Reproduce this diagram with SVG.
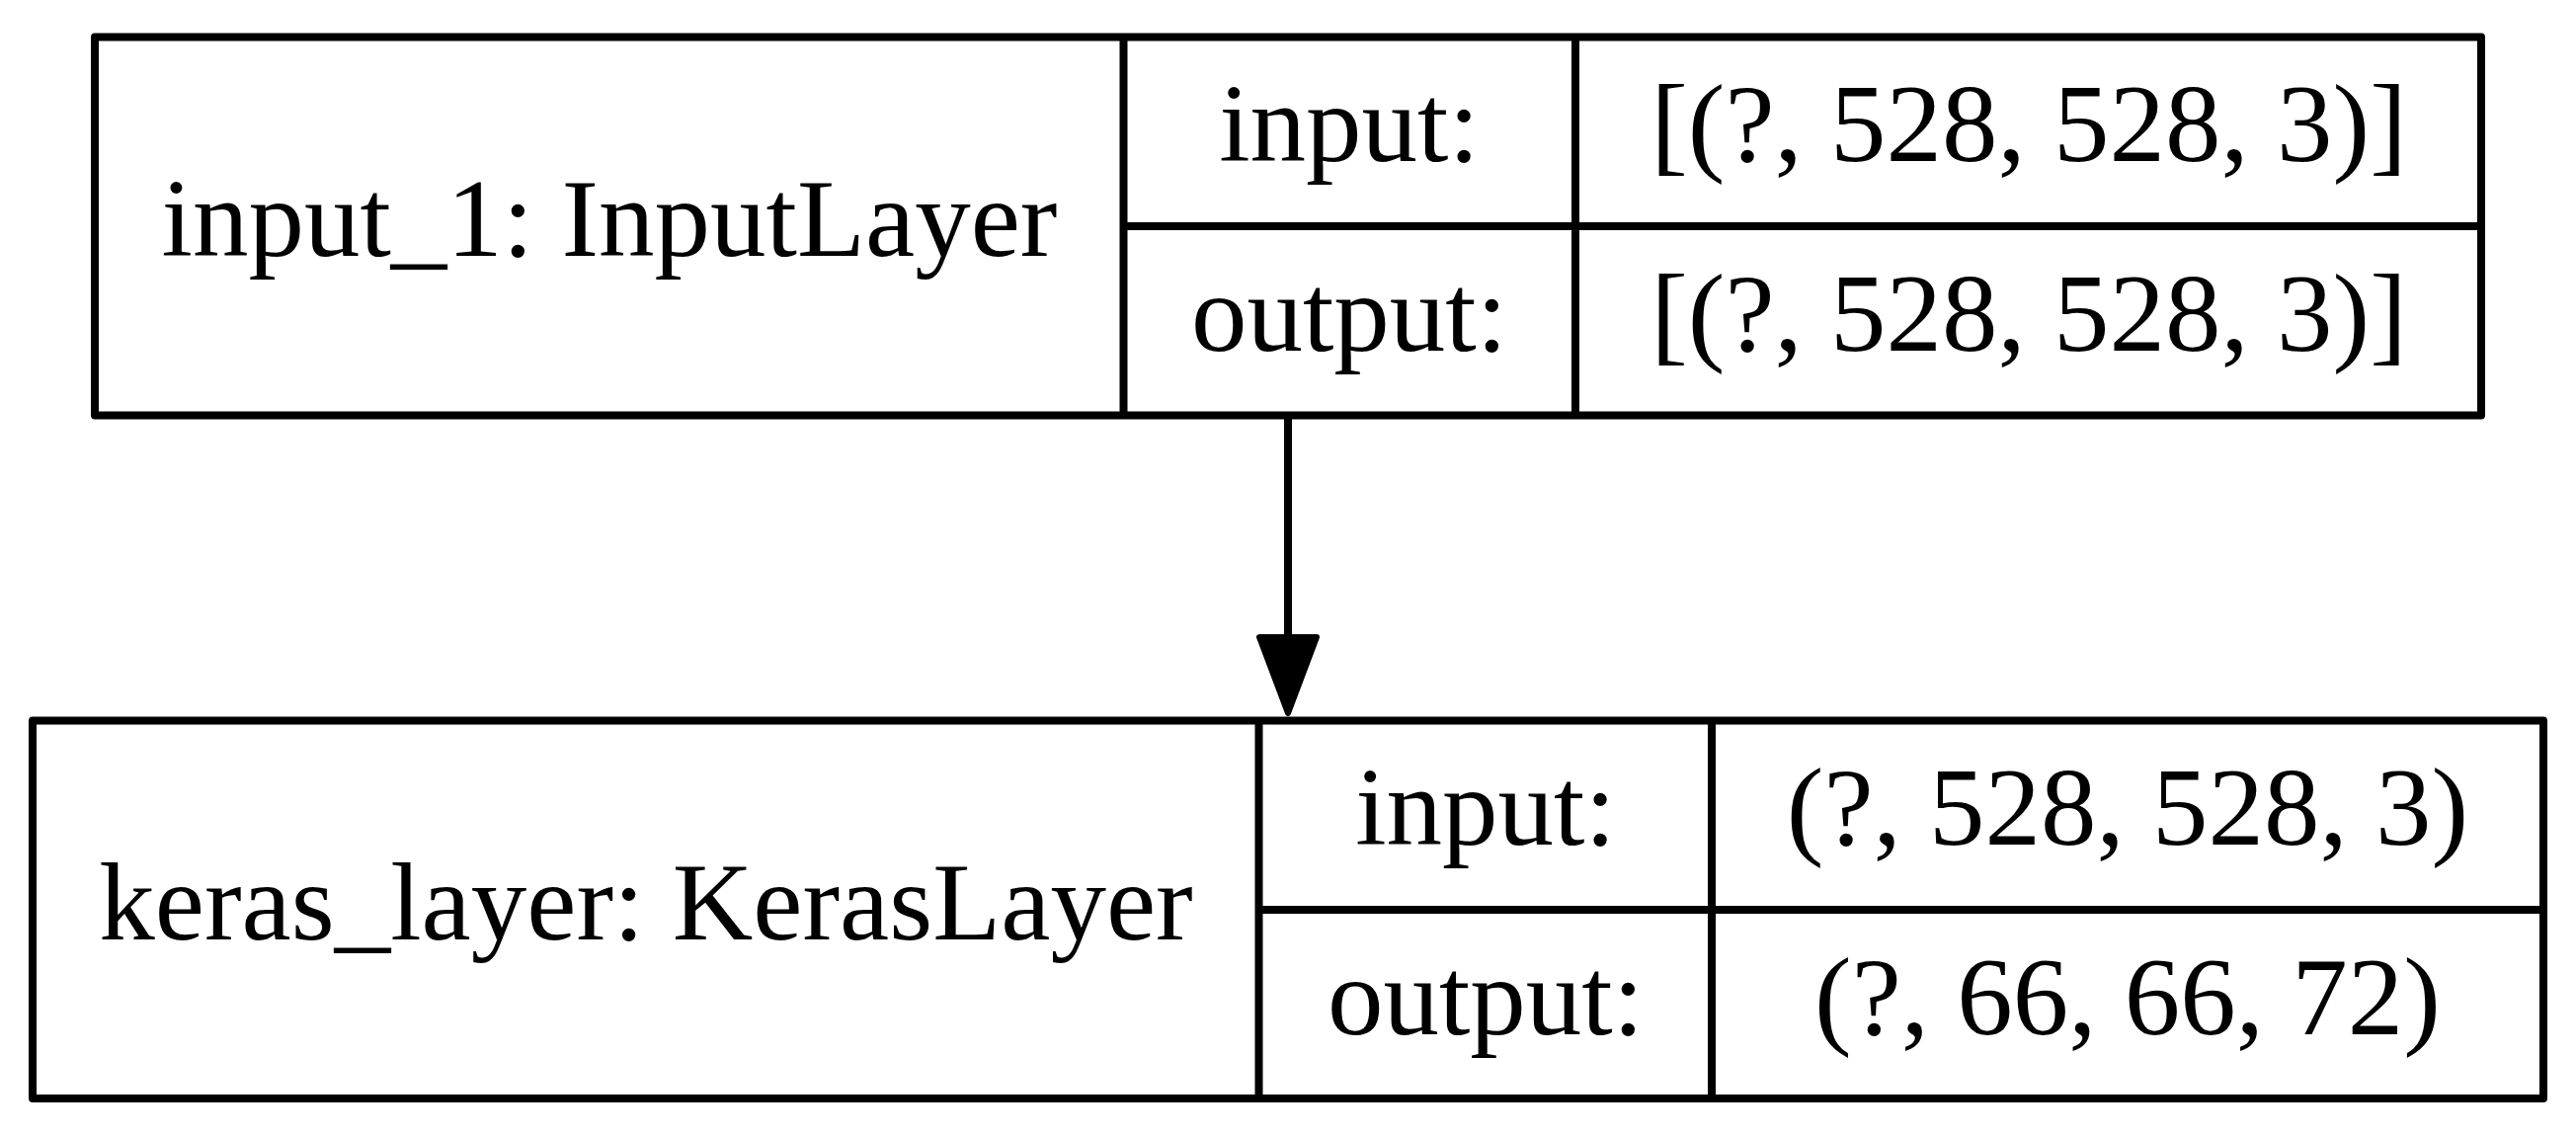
<svg xmlns="http://www.w3.org/2000/svg" width="2608" height="1150" viewBox="0 0 2608 1150">
<style>
.box{fill:none;stroke:#000;stroke-width:8;stroke-linejoin:round;stroke-linecap:round}
.ln{stroke:#000;stroke-width:8}
.t{font-family:"Liberation Serif","Times New Roman",serif;font-size:113px;fill:#000;text-anchor:middle}
.edge{stroke:#000;stroke-width:8;fill:none}
.head{fill:#000;stroke:#000;stroke-width:6;stroke-linejoin:round}
</style>
<rect width="2608" height="1150" fill="#fff"/>
<g id="connectors">
<line class="edge" x1="1304" y1="421" x2="1304" y2="646"/>
<polygon class="head" points="1275,645 1333,645 1304,722"/>
</g>
<g id="input_1">
<rect class="box" x="96" y="37.5" width="2416" height="383"/>
<line class="ln" x1="1137.5" y1="37.5" x2="1137.5" y2="420.5"/>
<line class="ln" x1="1595" y1="37.5" x2="1595" y2="420.5"/>
<line class="ln" x1="1137.5" y1="229" x2="2512" y2="229"/>
<text class="t" x="617" y="259">input_1: InputLayer</text>
<text class="t" x="1366" y="163">input:</text>
<text class="t" x="1366" y="355">output:</text>
<text class="t" x="2054" y="163">[(?, 528, 528, 3)]</text>
<text class="t" x="2054" y="355">[(?, 528, 528, 3)]</text>
</g>
<g id="keras_layer">
<rect class="box" x="33" y="729.5" width="2542" height="382.5"/>
<line class="ln" x1="1274.5" y1="729.5" x2="1274.5" y2="1112"/>
<line class="ln" x1="1733" y1="729.5" x2="1733" y2="1112"/>
<line class="ln" x1="1274.5" y1="921" x2="2575" y2="921"/>
<text class="t" x="654" y="951">keras_layer: KerasLayer</text>
<text class="t" x="1504" y="855">input:</text>
<text class="t" x="1504" y="1047">output:</text>
<text class="t" x="2154" y="855">(?, 528, 528, 3)</text>
<text class="t" x="2154" y="1047">(?, 66, 66, 72)</text>
</g>
</svg>
